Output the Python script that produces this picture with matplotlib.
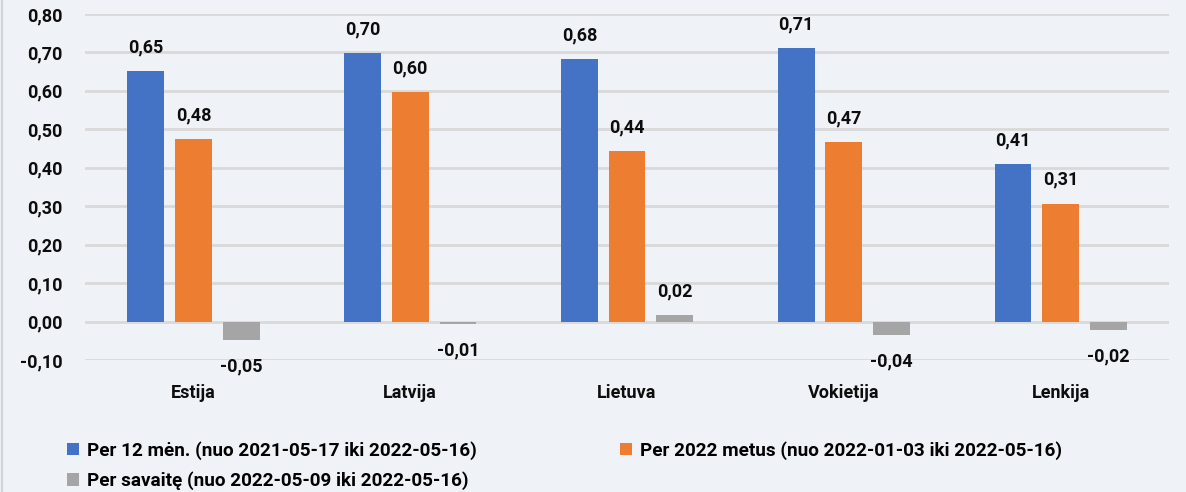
import numpy as np
import matplotlib
matplotlib.use("Agg")
import matplotlib.pyplot as plt
from matplotlib.patches import Patch
from matplotlib.lines import Line2D

# data
countries = ["Estija", "Latvija", "Lietuva", "Vokietija", "Lenkija"]
per_12_men = [0.651, 0.698, 0.683, 0.712, 0.409]
per_2022 = [0.476, 0.598, 0.443, 0.468, 0.307]
per_savaite = [-0.047, -0.006, 0.016, -0.035, -0.023]
series_names = [
    "Per 12 mėn. (nuo 2021-05-17 iki 2022-05-16)",
    "Per 2022 metus (nuo 2022-01-03 iki 2022-05-16)",
    "Per savaitę (nuo 2022-05-09 iki 2022-05-16)",
]
colors = ["#4472C4", "#ED7D31", "#A5A5A5"]
yticks = [-0.10, 0.00, 0.10, 0.20, 0.30, 0.40, 0.50, 0.60, 0.70, 0.80]

plt.rcParams["font.family"] = ["Roboto", "DejaVu Sans"]
plt.rcParams["font.weight"] = "bold"
bg = "#EFF3F7"
fs = 13
txt_col = "#0D0D0D"

fig = plt.figure(figsize=(11.86, 4.92), dpi=100, facecolor=bg)
ax = fig.add_axes([0.0717, 0.2683, 0.914, 0.7032], facecolor=bg)

x = np.arange(len(countries))
width = 0.17
step = 0.22
all_series = [per_12_men, per_2022, per_savaite]

for i, vals in enumerate(all_series):
    pos = x + (i - 1) * step
    bars = ax.bar(pos, vals, width, color=colors[i], zorder=3)
    for b, v in zip(bars, vals):
        txt = "{:.2f}".format(v).replace(".", ",")
        off = 17 if v >= 0 else -19
        ax.annotate(txt, (b.get_x() + b.get_width() / 2, v), xytext=(0, off),
                    textcoords="offset points", ha="center", va="center",
                    fontsize=fs, fontweight="bold", color=txt_col)

ax.set_xlim(-0.5, len(countries) - 0.5)
ax.set_ylim(-0.10, 0.80)
ax.set_yticks(yticks)
ax.set_yticklabels(["{:.2f}".format(t).replace(".", ",") for t in yticks],
                   fontsize=fs, fontweight="bold", color=txt_col)
ax.set_xticks(x)
ax.set_xticklabels(countries, fontsize=fs, fontweight="bold", color=txt_col)
ax.tick_params(axis="both", length=0)
ax.tick_params(axis="x", pad=17)
ax.tick_params(axis="y", pad=16)
ax.grid(axis="y", color="#D9D9D9", linewidth=2, zorder=0)
for s in ax.spines.values():
    s.set_visible(False)

# legend fills column-wise, so order as blue, gray | orange
order = [0, 2, 1]
handles = [Patch(facecolor=colors[k], edgecolor="none") for k in order]
labels = [series_names[k] for k in order]
fig.legend(handles, labels, loc="upper left", bbox_to_anchor=(0.042, 0.138),
           ncol=2, frameon=False, handlelength=0.65, handleheight=0.65,
           handletextpad=0.4, columnspacing=7.6, labelspacing=0.6,
           prop={"weight": "bold", "size": 13.6})

fig.add_artist(Line2D([0.002, 0.002], [0, 1], transform=fig.transFigure,
                      color="#D0D4D8", linewidth=1.5))

fig.savefig("out.png", dpi=100, facecolor=bg)
